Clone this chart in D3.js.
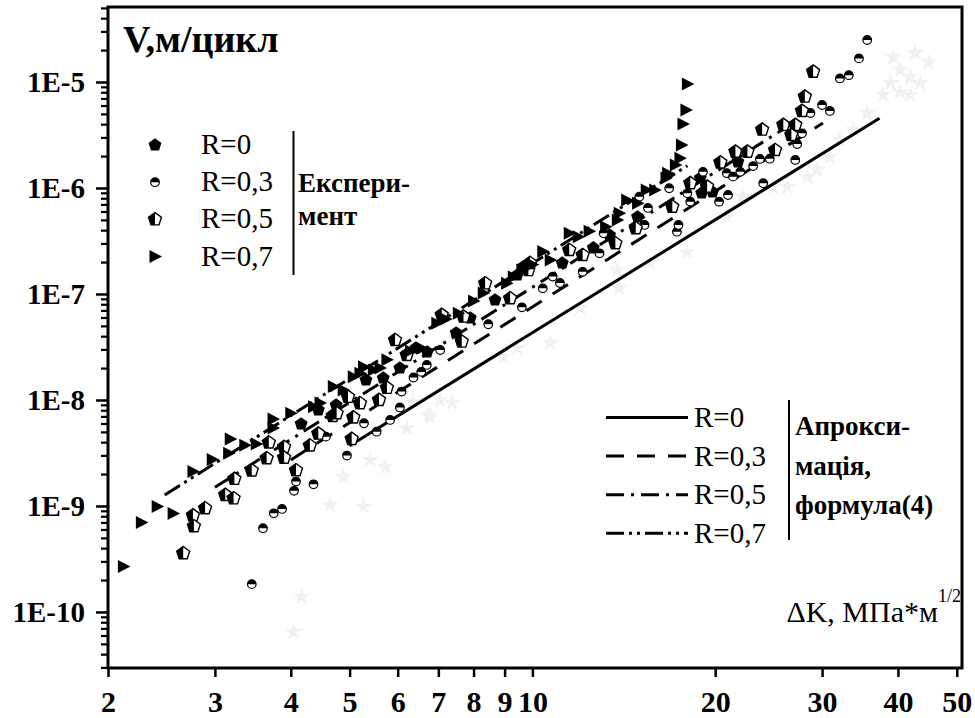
<!DOCTYPE html>
<html>
<head>
<meta charset="utf-8">
<script src="https://cdn.jsdelivr.net/npm/d3@7"></script>
<style>
  body { margin: 0; background: #fff; }
  svg { display: block; }
</style>
</head>
<body>
<svg id="chart" width="975" height="718"></svg>
<script>
// --- data: [dK (MPa*m^1/2), V (m/cycle)] ---
const ptsR0 = [[4.16,5.94e-9],[4.44,8.05e-9],[4.75,8.97e-9],[5.32,1.54e-8],[5.68,1.61e-8],[6.05,2.0e-8],
  [6.43,3.09e-8],[6.71,2.84e-8],[7.49,4.29e-8],[7.90,5.94e-8],[8.68,8.78e-8],[9.44,1.51e-7],[9.65,1.80e-7],
  [11.2,1.96e-7],[12.6,2.72e-7],[13.4,3.60e-7],[14.9,5.33e-7],[18.9,1.24e-6],[19.0,8.97e-7],[19.8,9.17e-7],
  [21.6,2.14e-6],[21.8,1.76e-6]]

const ptsR03 = [[3.45,1.83e-10],[3.60,6.16e-10],[3.75,8.53e-10],[3.87,9.37e-10],[4.05,1.39e-9],[4.08,1.70e-9],
  [4.36,1.60e-9],[4.57,4.51e-9],[4.95,2.99e-9],[5.28,6.03e-9],[5.54,5.02e-9],[5.83,6.48e-9],[6.05,8.50e-9],
  [6.09,1.20e-8],[6.37,1.63e-8],[6.56,1.84e-8],[6.70,2.14e-8],[7.05,2.96e-8],[8.46,5.18e-8],[9.61,7.49e-8],
  [10.4,1.13e-7],[10.8,1.46e-7],[11.1,1.27e-7],[12.1,1.62e-7],[12.9,2.42e-7],[13.1,3.74e-7],[15.3,4.48e-7],
  [15.5,6.48e-7],[15.0,8.28e-7],[16.8,9.94e-7],[17.3,3.87e-7],[17.4,4.48e-7],[18.2,7.43e-7],[18.0,8.91e-7],
  [19.1,1.42e-6],[20.3,7.43e-7],[21.0,8.59e-7],[20.9,1.38e-6],[21.4,1.28e-6],[22.0,1.42e-6],[23.1,1.61e-6],
  [23.7,1.88e-6],[24.0,1.11e-6],[24.6,1.89e-6],[27.1,1.84e-6],[27.3,2.60e-6],[27.8,3.28e-6],[28.7,5.10e-6],
  [30.0,6.07e-6],[30.9,5.33e-6],[32.1,1.08e-5],[33.2,1.16e-5],[34.5,1.67e-5],[35.6,2.49e-5]]

const ptsR05 = [[2.66,3.58e-10],[2.76,8.14e-10],[2.77,6.43e-10],[2.89,9.51e-10],[3.12,1.27e-9],[3.22,1.18e-9],
  [3.23,1.80e-9],[3.45,2.16e-9],[3.68,3.97e-9],[3.65,2.82e-9],[3.90,3.60e-9],[3.90,2.85e-9],[4.08,2.17e-9],
  [4.30,3.72e-9],[4.44,4.81e-9],[4.69,7.07e-9],[4.76,7.49e-9],[4.97,1.07e-8],[5.04,4.29e-9],[5.07,6.84e-9],
  [5.20,9.31e-9],[5.59,1.0e-8],[5.76,1.30e-8],[5.94,3.68e-8],[6.21,2.66e-8],[7.09,6.34e-8],[7.65,3.55e-8],
  [7.70,6.11e-8],[8.36,1.26e-7],[9.19,9.11e-8],[9.85,1.68e-7],[9.91,1.96e-7],[11.5,2.60e-7],[12.1,2.33e-7],
  [13.7,3.01e-7],[14.8,4.17e-7],[17.0,6.66e-7],[18.2,1.11e-6],[19.4,1.03e-6],[20.4,1.74e-6],[21.6,2.20e-6],
  [22.6,2.20e-6],[23.9,3.55e-6],[25.1,2.28e-6],[25.9,3.93e-6],[27.1,3.93e-6],[26.7,3.16e-6],[27.8,5.33e-6],
  [28.1,7.27e-6],[29.0,1.25e-5]]

const ptsR07 = [[2.12,2.68e-10],[2.27,7.0e-10],[2.41,9.9e-10],[2.56,8.5e-10],[2.76,2.12e-9],[2.97,2.75e-9],
  [3.16,3.14e-9],[3.18,4.29e-9],[3.36,3.74e-9],[3.51,3.85e-9],[3.74,6.62e-9],[3.74,5.44e-9],[4.00,7.49e-9],
  [4.36,8.65e-9],[4.47,9.37e-9],[4.70,1.34e-8],[4.88,1.24e-8],[5.07,1.66e-8],[5.20,1.79e-8],[5.27,2.06e-8],
  [5.47,1.92e-8],[5.61,2.0e-8],[5.76,2.39e-8],[6.3,2.9e-8],[6.57,3.07e-8],[6.96,5.29e-8],[7.2,5.8e-8],
  [7.55,6.58e-8],[8.0,8.6e-8],[8.30,1.02e-7],[9.07,1.26e-7],[9.3,1.45e-7],[9.61,1.68e-7],[10.0,1.9e-7],
  [10.4,2.51e-7],[10.7,2.09e-7],[11.5,3.74e-7],[11.9,3.47e-7],[12.4,3.9e-7],[13.2,4.31e-7],[13.8,4.99e-7],
  [13.9,5.77e-7],[14.3,7.7e-7],[14.9,7.17e-7],[15.4,9.57e-7],[15.9,9.57e-7],[16.6,1.24e-6],[16.7,1.38e-6],
  [17.2,1.65e-6],[17.5,1.91e-6],[17.6,2.55e-6],[17.7,4.02e-6],[17.9,5.44e-6],[18.0,9.57e-6]]

// faint grey markers showing through from the original scan
const ptsGhost = [[39.3,1.72e-5],[42.7,1.88e-5],[44.9,1.54e-5],[40.3,1.30e-5],[41.9,1.11e-5],[38.9,9.8e-6],
  [43.5,9.8e-6],[40.3,8.05e-6],[37.8,7.54e-6],[41.9,7.54e-6],[35.6,5.10e-6],[33.8,3.53e-6],[32.1,2.84e-6],
  [30.9,1.96e-6],[29.4,1.48e-6],[28.4,1.27e-6],[26.3,1.02e-6],[24.9,1.02e-6],[22.2,8.23e-7],[20.9,5.33e-7],
  [18.0,2.49e-7],[15.6,1.96e-7],[13.8,1.68e-7],[13.9,1.14e-7],[12.0,7.38e-8],[10.7,3.45e-8],[9.44,3.09e-8],
  [8.95,2.54e-8],[7.37,9.37e-9],[7.05,1.0e-8],[6.79,6.91e-9],[6.74,7.22e-9],[6.36,9.57e-9],[6.22,5.44e-9],
  [5.72,2.33e-9],[5.40,2.72e-9],[4.88,1.88e-9],[4.64,1.02e-9],[5.27,9.8e-10],[4.17,1.39e-10],[4.04,6.48e-11]]

// approximation lines (formula 4): end points
const fitR0 = [[5.0,3.7e-9],[37.3,4.55e-6]]
const fitR03 = [[4.0,2.72e-9],[30.1,4.1e-6]]
const fitR05 = [[3.0,1.5e-9],[26.0,3.64e-6]]
const fitR07 = [[2.48,1.27e-9],[18.0,1.62e-6]]

const xTicks = [2,3,4,5,6,7,8,9,10,20,30,40,50]
const yTicks = [1e-10,1e-9,1e-8,1e-7,1e-6,1e-5]
const expLabels = ['R=0','R=0,3','R=0,5','R=0,7']
const fitLabels = ['R=0','R=0,3','R=0,5','R=0,7']

const FONT = '"Liberation Serif","Times New Roman",serif'
const svg = d3.select('#chart')

const x = d3.scaleLog().domain([2, 51]).range([108, 962])
const y = d3.scaleLog().domain([2.96e-11, 5.1e-5]).range([668, 7])

// --- marker drawing ---
function pentagonPts(r) {
  return d3.range(5).map(i => {
    const a = -Math.PI / 2 + i * 2 * Math.PI / 5
    return [r * Math.cos(a), r * Math.sin(a)]
  })
}
function drawFullPent(g) {
  g.append('path')
    .attr('d', 'M' + pentagonPts(6.8).join('L') + 'Z')
    .attr('fill', '#000')
}
function drawHalfPent(g) {
  const p = pentagonPts(6.8)
  g.append('path')
    .attr('d', 'M' + p.join('L') + 'Z')
    .attr('fill', '#fff')
  g.append('path')
    .attr('d', `M${p[0]}L${p[4]}L${p[3]}L0,${p[3][1]}Z`)
    .attr('fill', '#000')
  g.append('path')
    .attr('d', 'M' + p.join('L') + 'Z')
    .attr('fill', 'none')
    .attr('stroke', '#000')
    .attr('stroke-width', 1.4)
}
function drawHalfCircle(g) {
  const r = 4.3
  g.append('circle').attr('r', r).attr('fill', '#fff').attr('stroke', '#000').attr('stroke-width', 1.2)
  g.append('path').attr('d', `M${-r},0A${r},${r} 0 0 1 ${r},0Z`).attr('fill', '#000')
}
function drawTriangle(g) {
  g.append('path').attr('d', 'M-5.5,-6.5L7,0L-5.5,6.5Z').attr('fill', '#000')
}
const drawers = [drawFullPent, drawHalfCircle, drawHalfPent, drawTriangle]

// ghost markers
svg.append('g')
  .selectAll('path')
  .data(ptsGhost)
  .join('path')
  .attr('transform', d => `translate(${x(d[0])},${y(d[1])})`)
  .attr('d', d3.symbol(d3.symbolStar, 95))
  .attr('fill', '#f1f1f1')

// --- fit lines ---
const dashes = [null, '18,13', '18,7,3,7', '18,5,3,5,3,5']
const fits = [fitR0, fitR03, fitR05, fitR07]
const line = d3.line().x(d => x(d[0])).y(d => y(d[1]))
fits.forEach((f, i) => {
  svg.append('path')
    .attr('d', line(f))
    .attr('fill', 'none')
    .attr('stroke', '#000')
    .attr('stroke-width', 3)
    .attr('stroke-dasharray', dashes[i])
})

// --- experimental points ---
const series = [ptsR0, ptsR03, ptsR05, ptsR07]
series.forEach((pts, i) => {
  svg.append('g')
    .selectAll('g')
    .data(pts)
    .join('g')
    .attr('transform', d => `translate(${x(d[0])},${y(d[1])})`)
    .each(function() { drawers[i](d3.select(this)) })
})

// --- axes ---
const minorY = []
for (let e = -11; e <= -5; e++) {
  for (let k = 2; k <= 9; k++) {
    const v = k * Math.pow(10, e)
    if (v >= 2.96e-11 && v <= 5.1e-5) minorY.push(v)
  }
}

const gyMinor = svg.append('g')
  .attr('transform', 'translate(108,0)')
  .call(d3.axisLeft(y).tickValues(minorY).tickSize(7).tickSizeOuter(0).tickFormat(''))
gyMinor.select('.domain').remove()
gyMinor.selectAll('line').attr('stroke-width', 2.2)

const gy = svg.append('g')
  .attr('transform', 'translate(108,0)')
  .call(d3.axisLeft(y).tickValues(yTicks).tickSize(12).tickSizeOuter(0).tickPadding(11)
    .tickFormat(v => '1E' + Math.round(Math.log10(v))))
gy.select('.domain').remove()
gy.selectAll('line').attr('stroke-width', 2.5)
gy.selectAll('text')
  .attr('font-family', FONT)
  .attr('font-size', 29)
  .attr('font-weight', 'bold')
  .attr('fill', '#000')

const gx = svg.append('g')
  .attr('transform', 'translate(0,668)')
  .call(d3.axisBottom(x).tickValues(xTicks).tickSize(9).tickSizeOuter(0).tickPadding(14)
    .tickFormat(d3.format('d')))
gx.select('.domain').remove()
gx.selectAll('line').attr('stroke-width', 2.5)
gx.selectAll('text')
  .attr('font-family', FONT)
  .attr('font-size', 30)
  .attr('font-weight', 'bold')
  .attr('fill', '#000')

// frame
svg.append('rect')
  .attr('x', 108).attr('y', 7)
  .attr('width', 854).attr('height', 661)
  .attr('fill', 'none')
  .attr('stroke', '#000')
  .attr('stroke-width', 3)

// --- titles ---
svg.append('text')
  .attr('x', 123).attr('y', 52)
  .attr('font-family', FONT).attr('font-size', 38).attr('font-weight', 'bold')
  .text('V,м/цикл')

const xl = svg.append('text')
  .attr('x', 961).attr('y', 622)
  .attr('text-anchor', 'end')
  .attr('font-family', FONT).attr('font-size', 30)
xl.append('tspan').text('ΔK, МПа*м')
xl.append('tspan').attr('font-size', 18).attr('dy', -20).text('1/2')

// --- legend: experiment ---
const legL = svg.append('g')
expLabels.forEach((t, i) => {
  const cy = 145 + i * 37.2
  const g = legL.append('g').attr('transform', `translate(155,${cy})`)
  drawers[i](g)
  legL.append('text')
    .attr('x', 201).attr('y', cy + 9)
    .attr('font-family', FONT).attr('font-size', 29)
    .text(t)
})
legL.append('line')
  .attr('x1', 293.5).attr('x2', 293.5).attr('y1', 131).attr('y2', 275)
  .attr('stroke', '#000').attr('stroke-width', 2)
legL.append('text').attr('x', 298).attr('y', 191.5)
  .attr('font-family', FONT).attr('font-size', 27).attr('font-weight', 'bold')
  .text('Експери-')
legL.append('text').attr('x', 298).attr('y', 225)
  .attr('font-family', FONT).attr('font-size', 27).attr('font-weight', 'bold')
  .text('мент')

// --- legend: approximation ---
const legR = svg.append('g')
fitLabels.forEach((t, i) => {
  const cy = 417.5 + i * 38.6
  legR.append('line')
    .attr('x1', 606).attr('x2', 688).attr('y1', cy).attr('y2', cy)
    .attr('stroke', '#000').attr('stroke-width', 3)
    .attr('stroke-dasharray', dashes[i])
  legR.append('text')
    .attr('x', 694).attr('y', cy + 9.5)
    .attr('font-family', FONT).attr('font-size', 29)
    .text(t)
})
legR.append('line')
  .attr('x1', 789).attr('x2', 789).attr('y1', 400).attr('y2', 540)
  .attr('stroke', '#000').attr('stroke-width', 2)
const fitTitle = ['Апрокси-', 'мація,', 'формула(4)']
fitTitle.forEach((t, i) => {
  legR.append('text')
    .attr('x', 795).attr('y', 435 + i * 39.5)
    .attr('font-family', FONT).attr('font-size', 27).attr('font-weight', 'bold')
    .text(t)
})
</script>
</body>
</html>
